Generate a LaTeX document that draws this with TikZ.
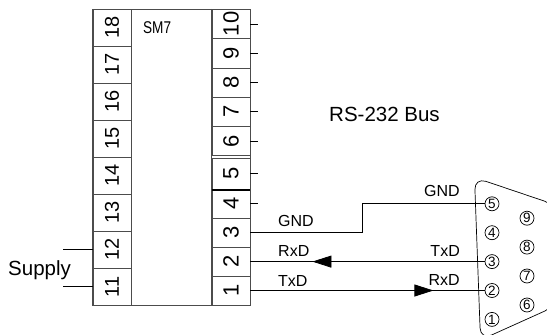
\documentclass[tikz,border=0pt]{standalone}
\usepackage{fontspec}
\setmainfont{Liberation Sans}
\usepackage{tikz}
\usetikzlibrary{arrows.meta,decorations.markings}

\tikzset{
	frame/.style={draw=black!70, line width=0.8pt},
	lcell/.style={frame, inner sep=0pt, minimum width=38pt, minimum height=37pt, font=\fontsize{20}{20}\selectfont},
	rcell/.style={frame, inner sep=0pt, minimum width=38pt, font=\fontsize{22}{22}\selectfont},
	wire/.style={line width=0.8pt},
	sig/.style={inner sep=0pt, anchor=base west, font=\fontsize{16}{16}\selectfont},
	dpin/.style={circle, draw, line width=0.7pt, minimum size=14pt, inner sep=0pt, font=\fontsize{13.5}{13.5}\selectfont},
	big/.style={inner sep=0pt, anchor=base west, font=\fontsize{20.5}{20.5}\selectfont}
}

\begin{document}
\begin{tikzpicture}[x=1pt, y=-1pt]
	\useasboundingbox (0,0) rectangle (547,335);
	\clip (0,0) rectangle (547,335);

	% module terminals
	\foreach \n [count=\i from 0] in {18,17,...,11}
		\node[lcell] (l\n) at (112, 27.8+37*\i) {\rotatebox{90}{\n}};
	\foreach \n/\yc/\h in {10/23.95/29.3, 9/53.25/29.3, 8/82.55/29.3, 7/111.85/29.3, 6/141.15/29.3,
		5/173.8/31, 4/203.8/28.9, 3/232.7/28.9, 2/261.6/28.9, 1/290.5/28.9}
		\node[rcell, minimum height=\h] (r\n) at (231, \yc) {\rotatebox{90}{\n}};

	\draw[frame] (l18.north west) rectangle (r1.south east);
	\draw[frame] (r10.north west) -- (r1.south west);
	\draw[line width=1.8pt] (r5.south west) -- (r5.south east);

	\node[anchor=base west, inner sep=0pt, xscale=0.8, font=\fontsize{17}{17}\selectfont] (sm) at (143, 33) {SM7};

	% unused outputs
	\foreach \n in {10,9,...,4}
		\draw[wire] (r\n.east) -- ++(8,0);

	% supply
	\draw[wire] (l12.west) -- ++(-30,0);
	\draw[wire] (l11.west) -- ++(-30,0);
	\node[big] (sup) at (8, 275) {Supply};

	\node[big] (bus) at (329, 121.5) {RS-232 Bus};

	% sub-D 9 connector
	\draw[line width=0.7pt, rounded corners=12pt] (474.5,177.5) -- (556,205) -- (556,306) -- (480.5,340) -- cycle;
	\foreach \n/\yc in {5/203.8, 4/232.7, 3/261.6, 2/290.5, 1/319.4}
		\node[dpin] (d\n) at (492, \yc) {\n};
	\foreach \n/\yc in {9/218.2, 8/247.1, 7/276, 6/305}
		\node[dpin] (d\n) at (527, \yc) {\n};

	% bus wires
	\draw[wire] (r3.east) -- ++(112,0) |- (d5);
	\draw[wire, decoration={markings, mark=at position 62pt with {\arrowreversed{Triangle[length=19pt, width=12pt]}}},
		postaction={decorate}] (r2.east) -- (d3);
	\draw[wire, decoration={markings, mark=at position 183pt with {\arrow{Triangle[length=19pt, width=12pt]}}},
		postaction={decorate}] (r1.east) -- (d2);

	\node[sig] (gnd1) at (278, 226.7) {GND};
	\node[sig] (rxd1) at (278, 256.7) {RxD};
	\node[sig] (txd1) at (278, 286.7) {TxD};
	\node[sig, anchor=base east] (gnd2) at (460, 196.7) {GND};
	\node[sig, anchor=base east] (txd2) at (460, 256.7) {TxD};
	\node[sig, anchor=base east] (rxd2) at (460, 285) {RxD};

\end{tikzpicture}
\end{document}
